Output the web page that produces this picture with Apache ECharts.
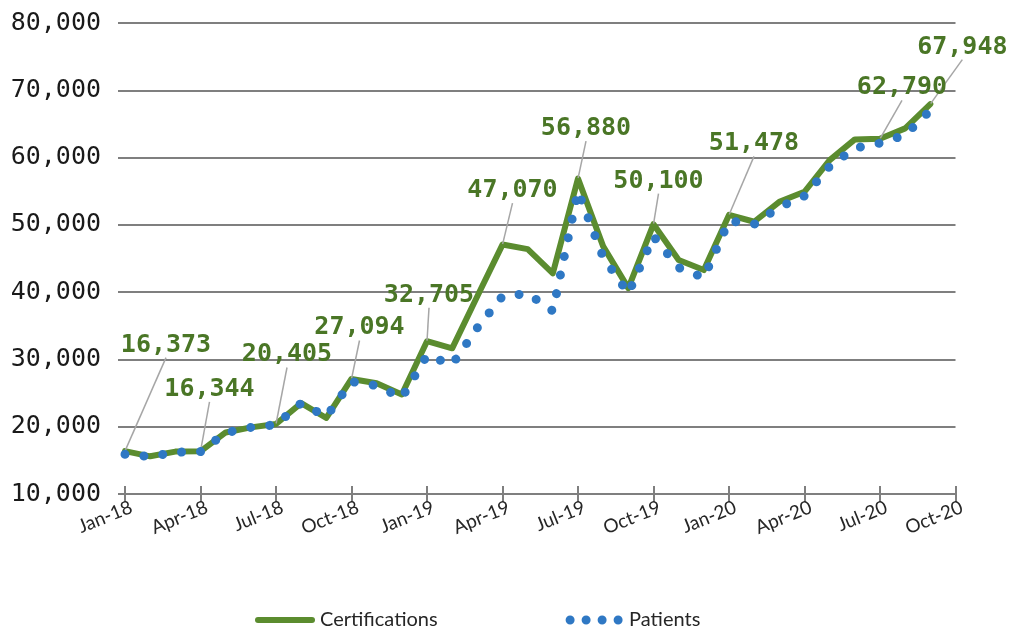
<!DOCTYPE html>
<html><head><meta charset="utf-8">
<script src="https://cdn.jsdelivr.net/npm/echarts@6/dist/echarts.min.js"></script>
<style>html,body{margin:0;padding:0;background:#fff}#c{width:1011px;height:630px}</style>
</head><body><div id="c"></div>
<script>
// ---- data ----
const months = ['Jan-18','Feb-18','Mar-18','Apr-18','May-18','Jun-18','Jul-18','Aug-18','Sep-18','Oct-18','Nov-18','Dec-18',
  'Jan-19','Feb-19','Mar-19','Apr-19','May-19','Jun-19','Jul-19','Aug-19','Sep-19','Oct-19','Nov-19','Dec-19',
  'Jan-20','Feb-20','Mar-20','Apr-20','May-20','Jun-20','Jul-20','Aug-20','Sep-20','Oct-20'];
const certifications = [16373,15600,16300,16344,19150,19900,20405,23500,21300,27094,26450,24800,
  32705,31650,39400,47070,46400,42800,56880,46800,40600,50100,44770,43280,
  51478,50460,53430,54920,59630,62700,62790,64340,67948];
const patients = [15900,15550,16200,16300,19100,19900,20300,23500,21500,26700,26100,24300,
  30600,29250,34700,39400,39800,37200,55000,45200,39800,48300,43650,42150,
  50600,50100,52650,54300,58700,61400,62150,63350,67000];
const labeledIdx = [0,3,6,9,12,15,18,21,24,30,32];
const yMin = 10000, yMax = 80000, yStep = 10000;

// ---- label placement (offset of label centre from its point, px) ----
const labelOffsets = {0:[41,-106],3:[9,-62],6:[11,-69],9:[8,-51],12:[2,-46],15:[10,-54],
  18:[8,-50],21:[5,-43],24:[25,-71],30:[22,-51],32:[32,-57]};

const GREEN = '#5b8c2f', LABEL_GREEN = '#4a7626', BLUE = '#2f78c4', GRID = '#7f7f7f';
const fmt = v => Number(v).toLocaleString('en-US');

const certData = certifications.map((v,i) => labeledIdx.includes(i) ? {value:v, label:{show:true}} : v);

const dotsIcon = 'path://M0,4.5a4.5,4.5 0 1,0 9,0a4.5,4.5 0 1,0 -9,0M16,4.5a4.5,4.5 0 1,0 9,0a4.5,4.5 0 1,0 -9,0M32,4.5a4.5,4.5 0 1,0 9,0a4.5,4.5 0 1,0 -9,0M48,4.5a4.5,4.5 0 1,0 9,0a4.5,4.5 0 1,0 -9,0Z';
const lineIcon = 'path://M3,0L57,0A3,3 0 0,1 57,6L3,6A3,3 0 0,1 3,0Z';

const chart = echarts.init(document.getElementById('c'), null, {renderer:'canvas'});
chart.setOption({
  animation:false,
  backgroundColor:'#fff',
  grid:{left:125, right:55.5, top:23, bottom:136, containLabel:false},
  legend:{
    top:605, left:250, itemGap:128, itemWidth:60, itemHeight:9,
    itemStyle:{borderWidth:0},
    textStyle:{fontFamily:'Lato', fontSize:20, color:'#262626'},
    data:[{name:'Certifications', icon:lineIcon},{name:'Patients', icon:dotsIcon}]
  },
  xAxis:[{
    type:'category', data:months, boundaryGap:false,
    axisLine:{lineStyle:{color:GRID, width:2}},
    axisTick:{show:true, interval:2, length:8, lineStyle:{color:GRID, width:2}},
    axisLabel:{interval:2, rotate:22, margin:15, padding:[5,-7,0,0], fontFamily:'Lato', fontSize:19, color:'#262626'},
    splitLine:{show:false}
  },{
    type:'category', data:months, boundaryGap:false, position:'bottom',
    axisLine:{show:false},
    axisTick:{show:true, inside:true, interval:2, length:8, lineStyle:{color:GRID, width:2}},
    axisLabel:{show:false}, splitLine:{show:false}
  }],
  yAxis:{
    type:'value', min:yMin, max:yMax, interval:yStep,
    axisLine:{show:false},
    axisTick:{show:true, length:7, lineStyle:{color:GRID, width:2}},
    axisLabel:{formatter:v=>fmt(v), margin:24, fontFamily:'DejaVu Sans Mono', fontSize:25, color:'#1a1a1a'},
    splitLine:{lineStyle:{color:GRID, width:2}}
  },
  series:[{
    name:'Certifications', type:'line', data:certData,
    symbol:'circle', symbolSize:1, showSymbol:true,
    itemStyle:{color:GREEN},
    lineStyle:{color:GREEN, width:6, join:'round', cap:'round'},
    label:{show:false, position:'inside', formatter:p=>fmt(p.value),
      fontFamily:'DejaVu Sans Mono', fontSize:25, color:LABEL_GREEN, fontWeight:'bold'},
    labelLine:{show:true, lineStyle:{color:'#a6a6a6', width:1.5}},
    labelLayout:function(p){
      const o = labelOffsets[p.dataIndex];
      return o ? {dx:o[0], dy:o[1]} : {};
    },
    z:2
  },{
    name:'Patients', type:'line', data:patients,
    symbol:'none', itemStyle:{color:BLUE},
    lineStyle:{color:BLUE, width:9, type:[0.01,19], cap:'round', join:'round'},
    z:3
  }]
});
</script></body></html>
